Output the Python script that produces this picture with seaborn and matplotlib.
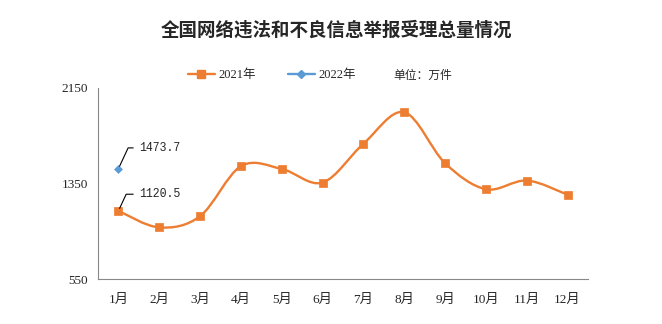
import numpy as np
import pandas as pd
import matplotlib
matplotlib.use("Agg")
import matplotlib.pyplot as plt
import seaborn as sns
from matplotlib.path import Path
from matplotlib.patches import PathPatch
from matplotlib.lines import Line2D

months = ["1月", "2月", "3月", "4月", "5月", "6月", "7月", "8月", "9月", "10月", "11月", "12月"]
values_2021 = [1120.5, 982, 1076, 1495, 1472, 1358, 1683, 1947, 1520, 1302, 1375, 1256]
months_2022 = ["1月"]
values_2022 = [1473.7]
yticks = [550, 1350, 2150]

sns.set_theme(style="white")
plt.rcParams['font.family'] = ['Liberation Serif', 'Noto Sans CJK SC']
plt.rcParams['axes.unicode_minus'] = False

ORANGE = "#ED7D31"
BLUE = "#5B9BD5"

fig = plt.figure(figsize=(6.62, 3.24), dpi=100)
ax = fig.add_axes([98/662, 1-279/324, (588-98)/662, (279-88)/324])

df21 = pd.DataFrame({"month": months, "value": values_2021})
df21["x"] = np.arange(len(months))
df22 = pd.DataFrame({"month": months_2022, "value": values_2022})
df22["x"] = [months.index(m) for m in months_2022]

# smoothed line (Excel-style Bezier through the data points)
pts = df21[["x", "value"]].to_numpy(dtype=float)
verts = [tuple(pts[0])]
codes = [Path.MOVETO]
n = len(pts)
for i in range(n - 1):
    p0 = pts[max(i - 1, 0)]
    p1 = pts[i]
    p2 = pts[i + 1]
    p3 = pts[min(i + 2, n - 1)]
    c1 = p1 + (p2 - p0) / 6.0
    c2 = p2 - (p3 - p1) / 6.0
    verts += [tuple(c1), tuple(c2), tuple(p2)]
    codes += [Path.CURVE4] * 3
ax.add_patch(PathPatch(Path(verts, codes), facecolor="none", edgecolor=ORANGE, lw=1.7, zorder=2))

sns.scatterplot(data=df21, x="x", y="value", marker="s", s=32, color=ORANGE,
                edgecolor=ORANGE, linewidth=0.5, ax=ax, zorder=3, legend=False)
sns.scatterplot(data=df22, x="x", y="value", marker="D", s=16, color=BLUE,
                edgecolor=BLUE, linewidth=0.5, ax=ax, zorder=3, legend=False)

ax.set_xlim(-0.5, len(months) - 0.5)
ax.set_ylim(yticks[0], yticks[-1])
ax.set_yticks(yticks)
ax.set_yticklabels([str(v) for v in yticks], fontsize=9.5)
ax.set_xticks(np.arange(len(months)))
ax.set_xticklabels(months, fontsize=9.5)
ax.set_xticks(np.arange(-0.5, len(months)), minor=True)
ax.tick_params(axis="x", which="major", length=0, pad=11)
ax.tick_params(axis="x", which="minor", length=4, color="#888888", width=0.8, direction="out")
ax.tick_params(axis="y", length=0, pad=7)
ax.set_xlabel("")
ax.set_ylabel("")
for s in ["top", "right"]:
    ax.spines[s].set_visible(False)
for s in ["left", "bottom"]:
    ax.spines[s].set_color("#888888")
    ax.spines[s].set_linewidth(0.8)

# annotations with leader lines
def annotate(xv, yv, label, dy):
    ax.annotate(label, xy=(xv, yv), xytext=(15, dy), textcoords="offset points",
                fontsize=8.3, ha="left", va="center",
                family=['Liberation Mono', 'DejaVu Sans Mono'],
                arrowprops=dict(arrowstyle="-", color="black", lw=0.8,
                                connectionstyle="angle,angleA=0,angleB=65,rad=0",
                                shrinkA=2, shrinkB=2))

annotate(df22["x"][0], values_2022[0], f"{values_2022[0]:.1f}", 15)
annotate(df21["x"][0], values_2021[0], f"{values_2021[0]:.1f}", 12)

fig.text(336/662, 1-30/324, "全国网络违法和不良信息举报受理总量情况", ha="center", va="center",
         fontsize=13.3, fontweight="bold", family=['Noto Sans CJK SC'])

handles = [Line2D([], [], color=ORANGE, lw=1.7, marker="s", markersize=5.5),
           Line2D([], [], color=BLUE, lw=1.7, marker="D", markersize=4)]
fig.legend(handles, ["2021年", "2022年"], loc="center", bbox_to_anchor=(272/662, 1-75/324),
           ncol=2, frameon=False, fontsize=9, handlelength=2.2, handletextpad=0.3,
           columnspacing=2.5)
fig.text(393/662, 1-75/324, "单位：万件", ha="left", va="center", fontsize=8.5,
         family=['Noto Sans CJK SC'])

fig.savefig("out.png", dpi=100)
